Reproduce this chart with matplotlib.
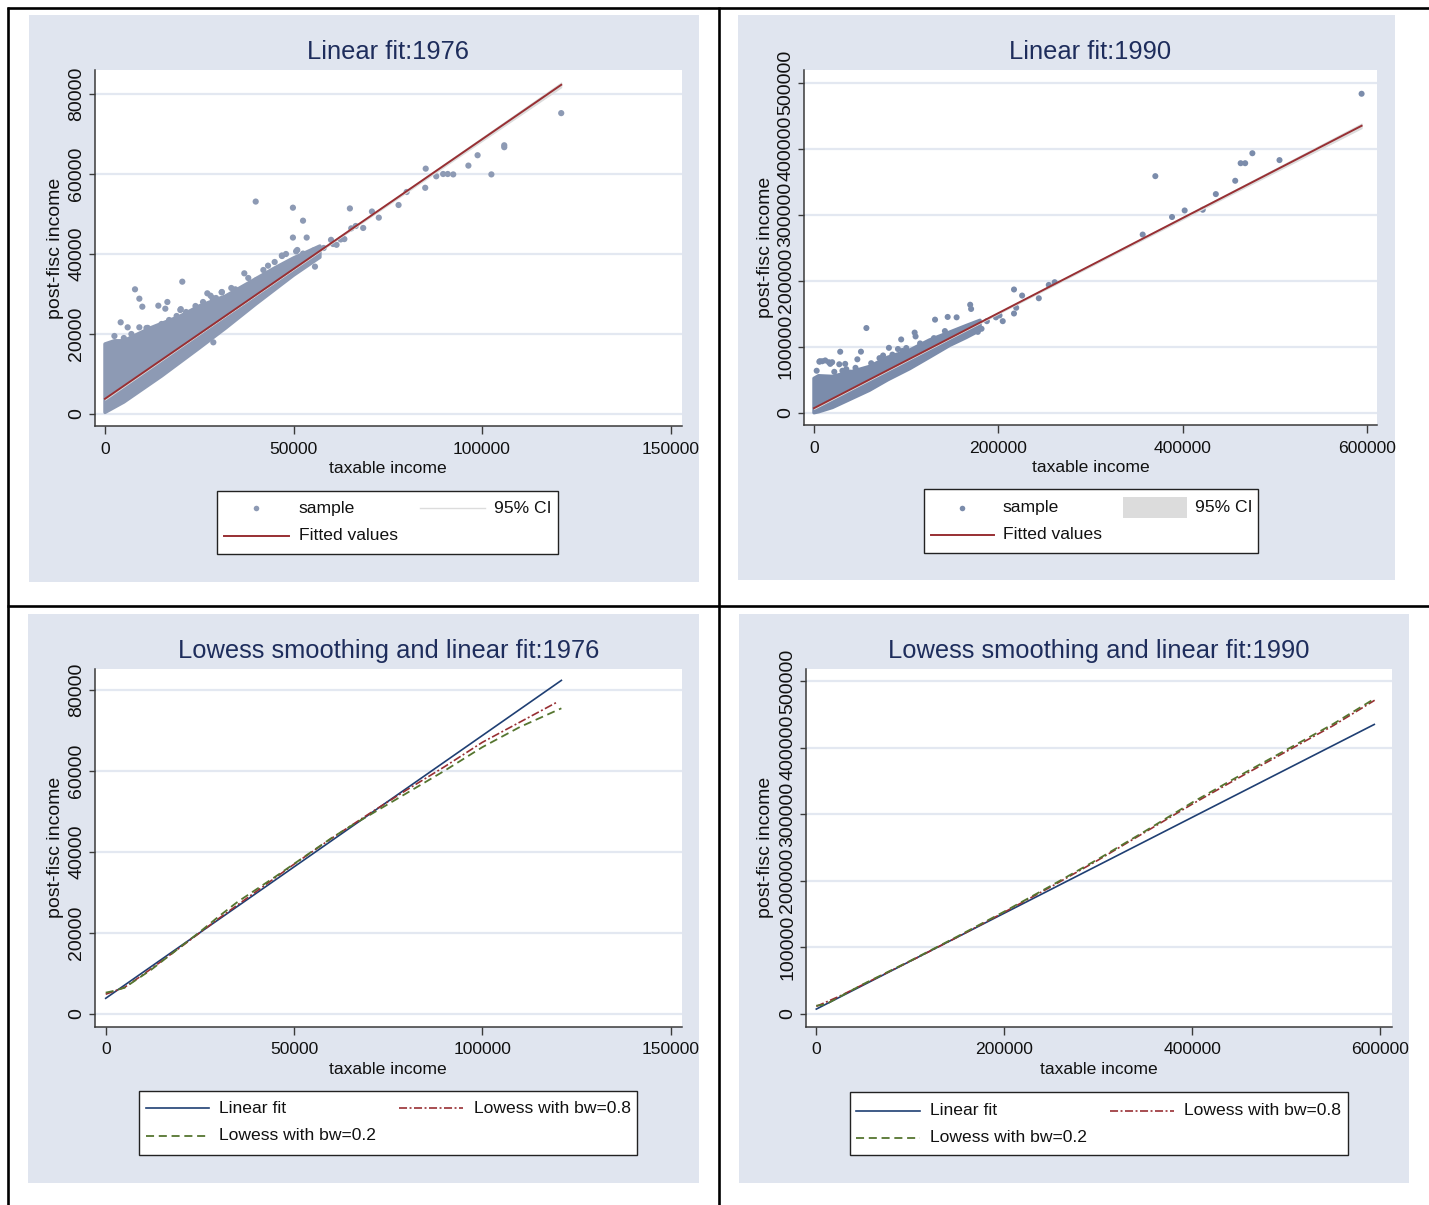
import matplotlib
matplotlib.use('Agg')
import matplotlib.pyplot as plt
from matplotlib.lines import Line2D
from matplotlib.patches import Rectangle
from matplotlib import font_manager

plt.rcParams['lines.scale_dashes'] = False

# ---------------------------------------------------------------- data
# 1976 : fitted line, its 95% CI and the scatter sample
fit76_x = [0, 121000]
fit76_y = [3800, 82300]
ci76_x = [0, 30000, 60000, 90000, 121000]
ci76_lo = [3600, 23200, 42600, 61850, 81700]
ci76_hi = [4000, 23330, 42850, 62530, 82900]

# dense part of the 1976 cloud (outline)
cloud76_up_x = [0, 2500, 5000, 12000, 20000, 25000, 32000, 38500, 45000, 50000, 57000]
cloud76_up_y = [17500, 18300, 18300, 21500, 24500, 27000, 29500, 33000, 36500, 39000, 42000]
cloud76_lo_x = [57000, 50000, 40000, 32000, 25000, 15000, 5000, 0]
cloud76_lo_y = [39200, 34700, 27500, 21500, 16500, 9500, 3000, 400]

# isolated 1976 observations
pts76_x = [39970, 49840, 52520, 49840, 53490, 50690, 52520, 46910, 55690, 55320,
           64950, 68480, 70800, 72620, 77860, 65310, 59950, 61410, 62510, 63480,
           85060, 84930, 87850, 89680, 90900, 92360, 96380, 98820, 102480, 105890,
           105890, 121000, 7960, 9110, 9900, 4160, 6010, 9110, 20500, 14150,
           16540, 16000, 19980, 23510, 27140, 28000, 29440, 30940, 34560, 36950,
           40230, 43240, 46950, 28730, 21040, 4020, 11330, 17790, 20100, 23270,
           26560, 58000, 60500, 66500, 80000,
           2500, 5000, 7000, 9000, 11000, 12500, 15000, 17000, 19000, 21500,
           24000, 26000, 28500, 31000, 33500, 38000, 42000, 45000, 48000, 51000]
pts76_y = [53110, 51580, 48330, 44110, 44110, 40670, 40100, 39620, 36840, 40860,
           51390, 46510, 50620, 49090, 52250, 46410, 43540, 42300, 43640, 43730,
           61340, 56550, 59430, 60000, 60000, 59900, 62100, 64690, 59900, 67180,
           66700, 75220, 31170, 28830, 26830, 22920, 21670, 21670, 33080, 27080,
           28000, 26330, 26000, 25420, 30170, 29580, 29000, 30420, 31170, 35170,
           33500, 37080, 39500, 17920, 14420, 16940, 21530, 22200, 26220, 25550,
           26510, 41500, 42500, 47000, 55500,
           19500, 19000, 20000, 19500, 21500, 21000, 22500, 23500, 24500, 25500,
           27000, 28000, 29000, 30500, 31500, 34000, 36000, 38000, 40000, 41000]

# 1990 : fitted line, its 95% CI and the scatter sample
fit90_x = [0, 593600]
fit90_y = [6900, 434700]
ci90_x = [0, 150000, 300000, 450000, 593600]
ci90_lo = [5900, 114300, 221800, 329200, 431200]
ci90_hi = [7900, 115700, 224400, 333200, 438200]

cloud90_up_x = [0, 5000, 20000, 40000, 60000, 80000, 104000, 125000, 147000, 165000, 180000]
cloud90_up_y = [52000, 56000, 55000, 62000, 70000, 84000, 95000, 110000, 122000, 132000, 140000]
cloud90_lo_x = [180000, 165000, 147000, 125000, 104000, 80000, 60000, 40000, 20000, 5000, 0]
cloud90_lo_y = [125000, 114000, 102000, 84000, 67000, 50000, 34000, 21000, 8000, 1500, 0]

pts90_x = [593600, 370000, 356300, 388100, 401800, 421400, 435600, 456600, 462500, 467400,
           475200, 504600, 216800, 225600, 243700, 216800, 219200, 204600, 201100, 197200,
           177600, 181600, 169300, 170300, 187400, 254500, 260900, 154600, 144900, 131200,
           141900, 109100, 110100, 94500, 91000, 95900, 81200, 56800, 50900, 47000,
           71000, 74900, 12200, 6400, 17600, 27400, 33800, 30800, 39200, 2900,
           4900, 5800, 8900, 16100, 19700, 28400,
           22000, 35000, 45000, 62000, 85000, 100000, 115000, 130000]
pts90_y = [483200, 358400, 269900, 296500, 306400, 307500, 331200, 351400, 378000, 378000,
           393100, 382700, 186700, 177500, 173400, 150300, 159000, 138700, 147400, 144500,
           122500, 127200, 163600, 157200, 138700, 193600, 197700, 144500, 145100, 141000,
           123700, 121400, 115600, 111000, 96500, 93600, 98300, 128300, 92500, 80900,
           82700, 86700, 79200, 78000, 74000, 73400, 74000, 63600, 60700, 63600,
           49100, 77300, 78000, 76500, 76500, 92400,
           62000, 66000, 68000, 75000, 88000, 98000, 105000, 113000]

# lowess smoothers
low76_08_x = [0, 5000, 10000, 20000, 30000, 40000, 50000, 60000, 70000, 80000, 90000, 100000, 110000, 120000]
low76_08_y = [4800, 6500, 9700, 16500, 23500, 30200, 36900, 43300, 49400, 55300, 61000, 67000, 72000, 77000]
low76_02_x = [0, 2000, 5000, 8000, 12000, 16000, 20000, 25000, 30000, 35000, 40000, 45000,
              50000, 55000, 60000, 65000, 70000, 80000, 90000, 100000, 110000, 121000]
low76_02_y = [5200, 5600, 6400, 8300, 10800, 13700, 16600, 20200, 24000, 27600, 30700, 33800,
              37000, 40200, 43400, 46300, 49000, 54500, 60000, 65800, 70800, 75400]

low90_08_x = [0, 25000, 50000, 100000, 150000, 200000, 250000, 300000, 350000, 400000, 450000, 500000, 550000, 594000]
low90_08_y = [11000, 26500, 44000, 79000, 115000, 152500, 191000, 231000, 273000, 315000, 355000, 394000, 433000, 471000]
low90_02_x = [0, 10000, 25000, 50000, 100000, 150000, 200000, 250000, 300000, 350000, 400000, 450000, 500000, 550000, 594000]
low90_02_y = [12000, 14000, 25500, 44500, 79500, 116000, 153500, 192500, 232500, 274500, 317500, 357500, 396500, 435500, 473500]

xt76 = [0, 50000, 100000, 150000]
yt76 = [0, 20000, 40000, 60000, 80000]
xt90 = [0, 200000, 400000, 600000]
yt90 = [0, 100000, 200000, 300000, 400000, 500000]

# ---------------------------------------------------------------- style
W, H, DPI = 1429, 1205, 100
names = {f.name for f in font_manager.fontManager.ttflist}
if 'Liberation Sans Narrow' in names:
    NARROW, FS, TFS = 'Liberation Sans Narrow', 15, 20.8
else:
    NARROW, FS, TFS = 'Liberation Sans', 12.6, 18.4
REG = 'Liberation Sans'
YFS = 14

BG = '#E0E5EF'
GRID = '#E3E8F1'
TITLE_C = '#1E2D5C'
AXC = '#3A3A3A'
DOT76 = '#8D9AB4'
DOT90 = '#7B8CAB'
MAROON = '#982F33'
NAVY = '#1F3F73'
GREEN = '#55752F'
CI_C = '#DCDCDC'
DASHDOT = (0, (5.8, 1.8, 1.4, 1.8))
DASH = (0, (5.8, 3.4))

fig = plt.figure(figsize=(W / DPI, H / DPI), dpi=DPI)
fig.patch.set_facecolor('white')


def fx(px):
    return px / W


def fy(py):
    return 1 - py / H


def add_rect(x0, y0, x1, y1, **kw):
    fig.add_artist(Rectangle((fx(x0), fy(y1)), fx(x1) - fx(x0), fy(y0) - fy(y1),
                             transform=fig.transFigure, **kw))


def fig_line(xs, ys, **kw):
    fig.add_artist(Line2D([fx(v) for v in xs], [fy(v) for v in ys],
                          transform=fig.transFigure, **kw))


def fig_text(x, y, s, **kw):
    fig.text(fx(x), fy(y), s, **kw)


# panel backgrounds
add_rect(28.5, 15, 699, 582, facecolor=BG, edgecolor='none', zorder=0)
add_rect(738, 15, 1395, 580, facecolor=BG, edgecolor='none', zorder=0)
add_rect(28, 614, 699, 1183, facecolor=BG, edgecolor='none', zorder=0)
add_rect(739, 614, 1409, 1183, facecolor=BG, edgecolor='none', zorder=0)

# table rules
rule = dict(color='black', lw=1.9, zorder=10, solid_capstyle='butt')
fig_line([7, 1429], [8, 8], **rule)
fig_line([7, 1429], [606, 606], **rule)
fig_line([7.5, 7.5], [7, 1205], **rule)
fig_line([718.5, 718.5], [7, 1205], **rule)


def make_axes(l, t, r, b, xlim, ylim, xt, yt, title, xlabel_y, ylabel_x):
    ax = fig.add_axes([fx(l), fy(b), fx(r) - fx(l), fy(t) - fy(b)])
    ax.set_facecolor('white')
    ax.set_xlim(*xlim)
    ax.set_ylim(*ylim)
    for s in ['top', 'right']:
        ax.spines[s].set_visible(False)
    for s in ['left', 'bottom']:
        ax.spines[s].set_color(AXC)
        ax.spines[s].set_linewidth(1.1)
    ax.set_xticks(xt)
    ax.set_xticklabels([str(v) for v in xt], fontfamily=NARROW, fontsize=FS)
    ax.set_yticks(yt)
    ax.set_yticklabels([str(v) for v in yt], fontfamily=REG, fontsize=YFS,
                       rotation=90, va='center', ha='right')
    ax.tick_params(axis='x', length=5.8, width=1.0, color=AXC, pad=5.5, labelcolor='#111111')
    ax.tick_params(axis='y', length=4.3, width=1.0, color=AXC, pad=2.5, labelcolor='#111111')
    ax.grid(axis='y', color=GRID, lw=1.6)
    ax.set_axisbelow(True)
    cx = (l + r) / 2
    fig_text(cx, t - 18, title, ha='center', va='center', fontsize=TFS,
             family=NARROW, color=TITLE_C)
    fig_text(cx, xlabel_y, 'taxable income', ha='center', va='center',
             fontsize=FS, family=NARROW, color='#111111')
    fig_text(ylabel_x, (t + b) / 2, 'post-fisc income', ha='center', va='center',
             rotation=90, fontsize=YFS, family=REG, color='#111111')
    return ax


def draw_cloud(ax, up_x, up_y, lo_x, lo_y, color):
    px = list(up_x) + list(lo_x)
    py = list(up_y) + list(lo_y)
    ax.fill(px, py, facecolor=color, edgecolor=color, lw=2.5, joinstyle='round', zorder=2)


# ---- panel 1: linear fit 1976
ax1 = make_axes(94.7, 70, 681.5, 426, (-2730, 152900), (-3000, 86000), xt76, yt76,
                'Linear fit:1976', 469, 55)
draw_cloud(ax1, cloud76_up_x, cloud76_up_y, cloud76_lo_x, cloud76_lo_y, DOT76)
ax1.scatter(pts76_x, pts76_y, s=20, color=DOT76, edgecolors='none', zorder=3)
ax1.fill_between(ci76_x, ci76_lo, ci76_hi, color=CI_C, lw=0.8, edgecolor=CI_C, zorder=4)
ax1.plot(fit76_x, fit76_y, color=MAROON, lw=1.4, zorder=5)

# ---- panel 2: linear fit 1990
ax2 = make_axes(804, 70, 1377, 425, (-10840, 610300), (-18600, 519200), xt90, yt90,
                'Linear fit:1990', 467, 765)
draw_cloud(ax2, cloud90_up_x, cloud90_up_y, cloud90_lo_x, cloud90_lo_y, DOT90)
ax2.scatter(pts90_x, pts90_y, s=19, color=DOT90, edgecolors='none', zorder=3)
ax2.fill_between(ci90_x, ci90_lo, ci90_hi, color=CI_C, lw=0.8, edgecolor=CI_C, zorder=4)
ax2.plot(fit90_x, fit90_y, color=MAROON, lw=1.4, zorder=5)

# ---- panel 3: lowess 1976
ax3 = make_axes(94.7, 669, 681.7, 1026.7, (-2920, 152950), (-3210, 85110), xt76, yt76,
                'Lowess smoothing and linear fit:1976', 1069, 55)
ax3.plot(fit76_x, fit76_y, color=NAVY, lw=1.2, zorder=3)
ax3.plot(low76_08_x, low76_08_y, color=MAROON, lw=1.2, linestyle=DASHDOT, zorder=4)
ax3.plot(low76_02_x, low76_02_y, color=GREEN, lw=1.3, linestyle=DASH, zorder=5)

# ---- panel 4: lowess 1990
ax4 = make_axes(805.7, 669, 1392, 1026.7, (-11280, 612450), (-19550, 518000), xt90, yt90,
                'Lowess smoothing and linear fit:1990', 1069, 765)
ax4.plot(fit90_x, fit90_y, color=NAVY, lw=1.2, zorder=3)
ax4.plot(low90_08_x, low90_08_y, color=MAROON, lw=1.2, linestyle=DASHDOT, zorder=4)
ax4.plot(low90_02_x, low90_02_y, color=GREEN, lw=1.3, linestyle=DASH, zorder=5)

# ---------------------------------------------------------------- legends
LT = dict(ha='left', va='center', fontsize=FS, family=NARROW, color='#111111', zorder=12)
box = dict(facecolor='white', edgecolor='#222222', lw=1.0, zorder=11)

# panel 1
add_rect(217.3, 490.7, 558, 553.9, **box)
fig.add_artist(Line2D([fx(255.9)], [fy(508.3)], marker='o', ms=4.0, color=DOT76,
                      mec='none', linestyle='none', transform=fig.transFigure, zorder=12))
fig_text(298.6, 508.3, 'sample', **LT)
fig_line([420.3, 484.6], [508.3, 508.3], color=CI_C, lw=1.0, zorder=12)
fig_text(494.3, 508.3, '95% CI', **LT)
fig_line([224.2, 288.5], [535.9, 535.9], color=MAROON, lw=1.4, zorder=12)
fig_text(298.6, 535.9, 'Fitted values', **LT)

# panel 2
add_rect(923.6, 488.8, 1258.3, 552.8, **box)
fig.add_artist(Line2D([fx(962)], [fy(507.8)], marker='o', ms=4.0, color=DOT90,
                      mec='none', linestyle='none', transform=fig.transFigure, zorder=12))
fig_text(1002.9, 507.8, 'sample', **LT)
add_rect(1122.7, 497, 1186.8, 518.2, facecolor=CI_C, edgecolor='none', zorder=12)
fig_text(1195.2, 507.8, '95% CI', **LT)
fig_line([931, 993.8], [534.8, 534.8], color=MAROON, lw=1.4, zorder=12)
fig_text(1002.9, 534.8, 'Fitted values', **LT)

# panel 3
add_rect(138.6, 1090.7, 636.5, 1154.8, **box)
fig_line([146, 208.8], [1108.2, 1108.2], color=NAVY, lw=1.2, zorder=12)
fig_text(219.4, 1108.2, 'Linear fit', **LT)
fig_line([399.3, 463.5], [1108.2, 1108.2], color=MAROON, lw=1.2, linestyle=DASHDOT, zorder=12)
fig_text(473.6, 1108.2, 'Lowess with bw=0.8', **LT)
fig_line([146, 208.8], [1136, 1136], color=GREEN, lw=1.3, linestyle=DASH, zorder=12)
fig_text(219.4, 1136, 'Lowess with bw=0.2', **LT)

# panel 4
add_rect(849.7, 1091.9, 1347.5, 1155.3, **box)
fig_line([856.5, 920.3], [1110.8, 1110.8], color=NAVY, lw=1.2, zorder=12)
fig_text(930.2, 1110.8, 'Linear fit', **LT)
fig_line([1109.7, 1174.3], [1110.8, 1110.8], color=MAROON, lw=1.2, linestyle=DASHDOT, zorder=12)
fig_text(1184.3, 1110.8, 'Lowess with bw=0.8', **LT)
fig_line([856.5, 920.3], [1137.9, 1137.9], color=GREEN, lw=1.3, linestyle=DASH, zorder=12)
fig_text(930.2, 1137.9, 'Lowess with bw=0.2', **LT)

fig.savefig('out.png', dpi=DPI, facecolor='white')
